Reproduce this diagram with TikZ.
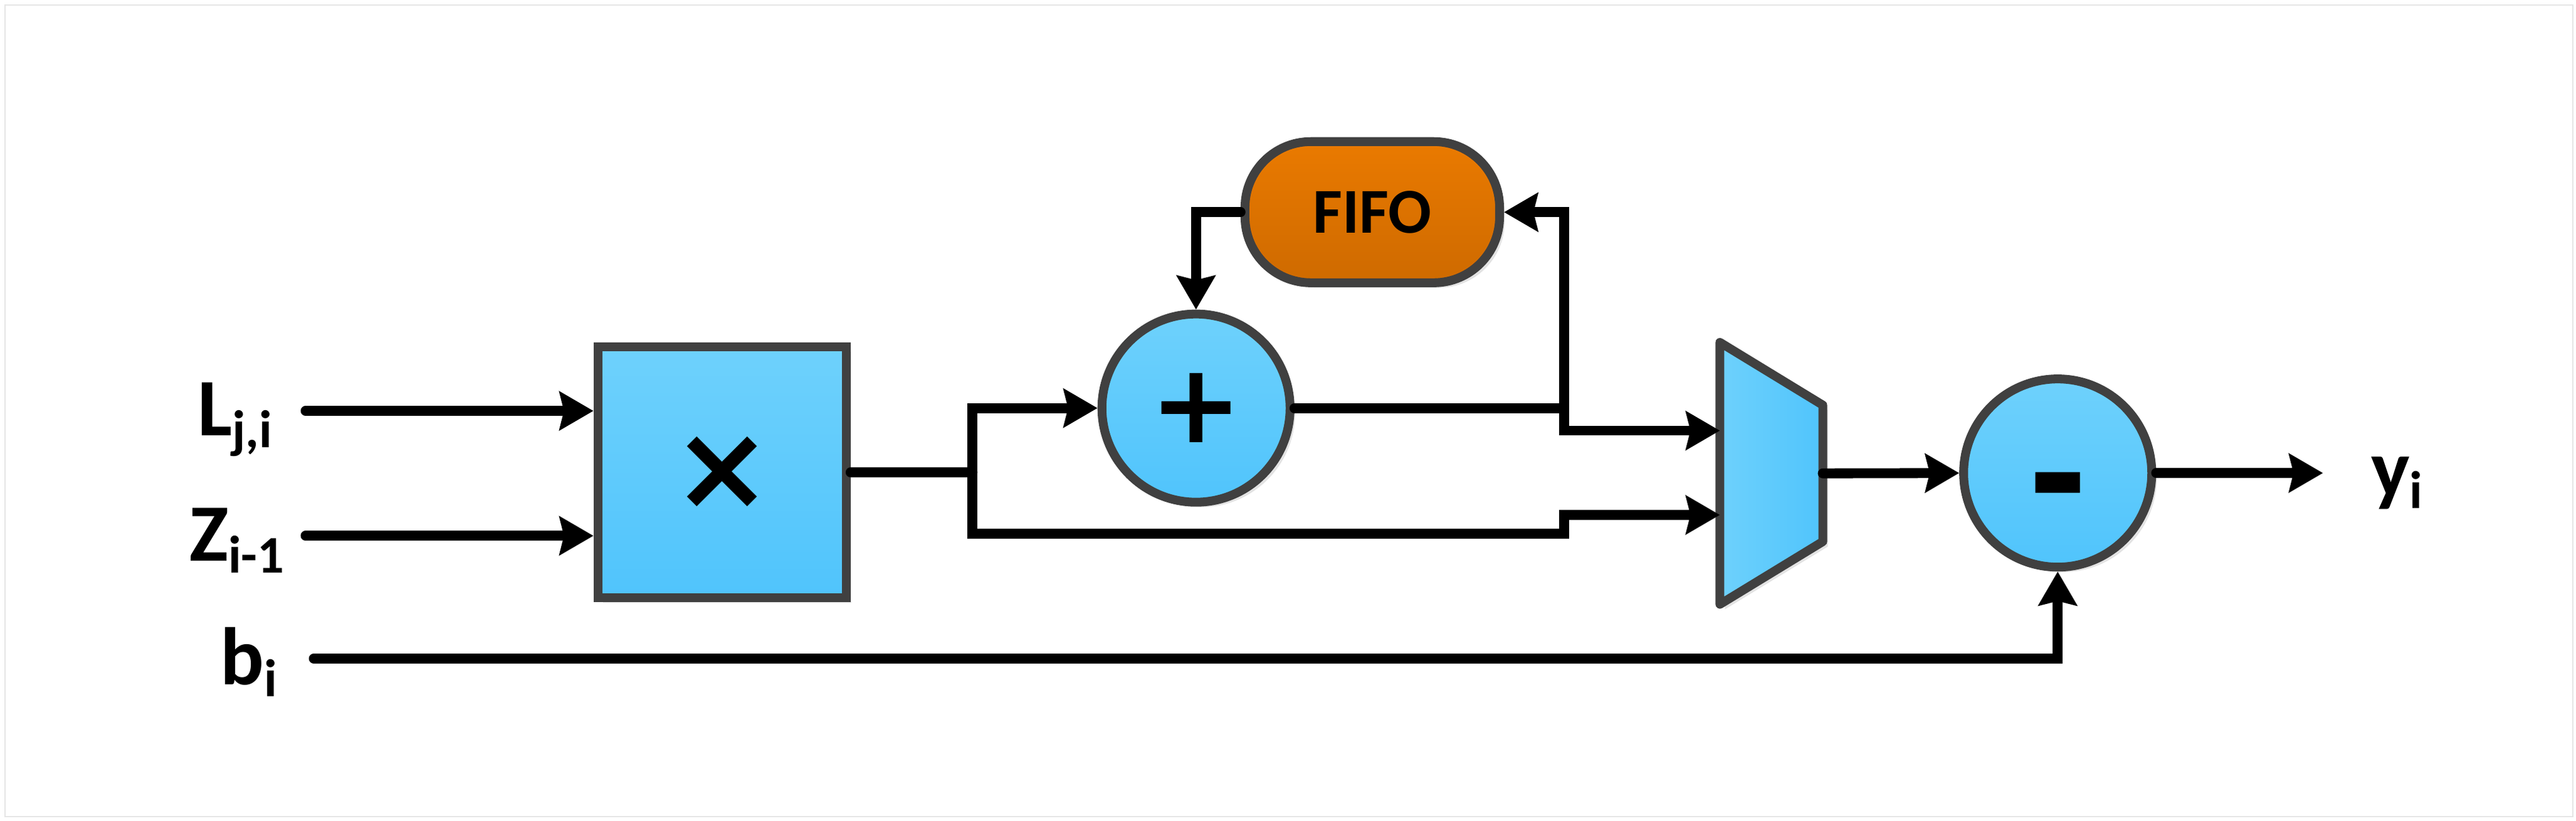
\documentclass[tikz,border=0pt]{standalone}
\usepackage{fontspec}
\setmainfont{Carlito}
\newfontfamily\opfont{DejaVu Sans}
\usetikzlibrary{arrows.meta,shadows}
\definecolor{blueTop}{RGB}{110,209,252}
\definecolor{blueBot}{RGB}{80,196,252}
\definecolor{orangeTop}{RGB}{234,122,0}
\definecolor{orangeBot}{RGB}{206,106,0}
\definecolor{edge}{RGB}{64,64,64}
\newcommand{\lsub}[1]{\raisebox{-5.4pt}{\fontsize{24}{26}\selectfont #1}}

\begin{document}
\begin{tikzpicture}[x=0.026205cm,y=-0.026205cm]
	\tikzstyle{every node}=[inner sep=0pt]
	\tikzstyle{shade}=[drop shadow={shadow xshift=0.08cm,shadow yshift=-0.08cm,fill=black!11,opacity=1}]
	\tikzstyle{block}=[draw=edge,line width=4pt,top color=blueTop,bottom color=blueBot,shade]
	\tikzstyle{op}=[block,circle,minimum size=3.0cm,font=\opfont\bfseries\fontsize{50}{52}\selectfont]
	\tikzstyle{fifobox}=[draw=edge,line width=4pt,top color=orangeTop,bottom color=orangeBot,shade,
		rounded corners=1.05cm,minimum width=4.06cm,minimum height=2.25cm,font=\bfseries\fontsize{29}{31}\selectfont]
	\tikzstyle{sig}=[font=\bfseries\fontsize{37}{40}\selectfont,anchor=base west]
	\tikzstyle{wire}=[line width=4.5pt,line cap=round]
	\tikzstyle{arr}=[wire,-{Stealth[length=0.54cm,width=0.61cm,inset=0.07cm]}]

	\useasboundingbox (0,0) rectangle (1568,499.5);
	\draw[black!10,line width=0.6pt] (3,3) rectangle (1566,497);

	\node[block,minimum width=3.96cm,minimum height=4.0cm,font=\opfont\bfseries\fontsize{54}{56}\selectfont] (mul) at (439.5,287.5) {×};
	\node[op] (add) at (728,248.3) {+};
	\node[op,font=\opfont\bfseries\fontsize{66}{68}\selectfont,text height=1.64cm,text depth=0cm] (sub) at (1252.5,287.8) {-};
	\node[fifobox] (fifo) at (835.3,129.1) {FIFO};
	\node[minimum width=1.5cm,minimum height=4.035cm,outer sep=2pt] (mux) at (1078.2,288) {};
	\filldraw[draw=edge,line width=4pt,line join=round,left color=blueTop,right color=blueBot,shade]
		(mux.north west) -- ([yshift=-1.0cm]mux.north east) -- ([yshift=1.0cm]mux.south east) -- (mux.south west) -- cycle;

	\node[sig] (lji) at (120,265) {L\lsub{j,i}};
	\node[sig] (zi) at (115,341.4) {Z\lsub{i-1}};
	\node[sig] (bi) at (134,416.5) {b\lsub{i}};
	\node[sig] (yi) at (1443,302) {y\lsub{i}};

	\coordinate (inL) at (186,250);
	\coordinate (inZ) at (186,326);
	\coordinate (inB) at (191,400.7);
	\coordinate (split) at (592,287.5);
	\coordinate (lowA) at (952,324.6);
	\coordinate (lowB) at (952,313.3);
	\coordinate (tap) at (952,248.3);
	\coordinate (hiB) at (952,262);
	\coordinate (outY) at (1414,287.8);

	\draw[arr] (inL) -- (inL -| mul.west);
	\draw[arr] (inZ) -- (inZ -| mul.west);
	\draw[arr] (inB) -| (sub.south);
	\draw[wire] (mul.east) -- (split);
	\draw[arr] (split) |- (add.west);
	\draw[arr] (split) |- (lowA) -- (lowB) -- (lowB -| mux.west);
	\draw[wire] (add.east) -- (tap);
	\draw[arr] (tap) |- (fifo.east);
	\draw[arr] (tap) -- (hiB) -- (hiB -| mux.west);
	\draw[arr] (fifo.west) -| (add.north);
	\draw[arr] (mux.east) -- (sub.west);
	\draw[arr] (sub.east) -- (outY);
\end{tikzpicture}
\end{document}
